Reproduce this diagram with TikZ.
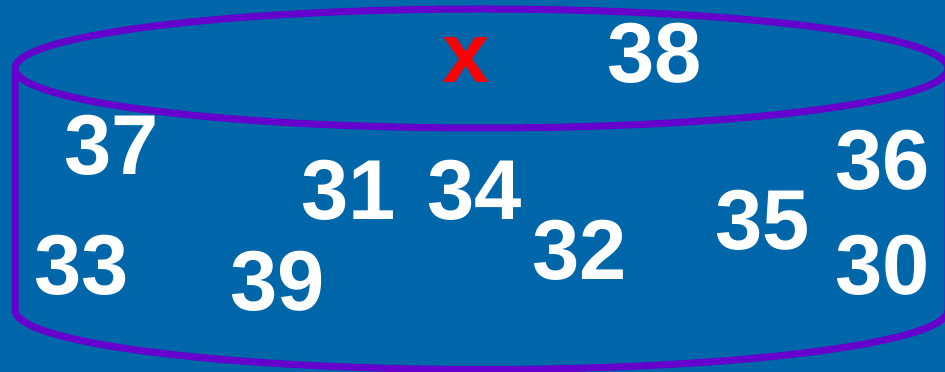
\documentclass[tikz,border=0pt]{standalone}
\usepackage{fontspec}
\setmainfont{Liberation Sans}
\definecolor{bgblue}{RGB}{0,102,170}
\definecolor{rimpurple}{RGB}{102,0,204}
\definecolor{xred}{RGB}{255,0,0}
\begin{document}
\begin{tikzpicture}[x=1pt,y=1pt,
  num/.style={anchor=base,inner sep=0pt,text=white,font=\fontsize{85}{85}\selectfont\bfseries},
  rim/.style={draw=rimpurple,line width=7pt,line join=round}]
\useasboundingbox (0,0) rectangle (945,372);
\clip (0,0) rectangle (945,372);
\fill[bgblue] (0,0) rectangle (945,372);
% cylinder
\draw[rim] (481.5,303.5) ellipse [x radius=466.5,y radius=59.5];
\draw[rim] (15,303.5) -- (15,62) arc[start angle=180,end angle=360,x radius=466.5,y radius=59.5] -- (948,303.5);
% labels
\node[num,text=xred] (x) at (466,289) {x};
\node[num] (n38) at (655,289) {38};
\node[num] (n37) at (112,197) {37};
\node[num] (n36) at (883,182) {36};
\node[num] (n31) at (349,152) {31};
\node[num] (n34) at (475,152) {34};
\node[num] (n33) at (82,77) {33};
\node[num] (n39) at (278,61) {39};
\node[num] (n32) at (580,92) {32};
\node[num] (n35) at (763,122) {35};
\node[num] (n30) at (883,77) {30};
\end{tikzpicture}
\end{document}
